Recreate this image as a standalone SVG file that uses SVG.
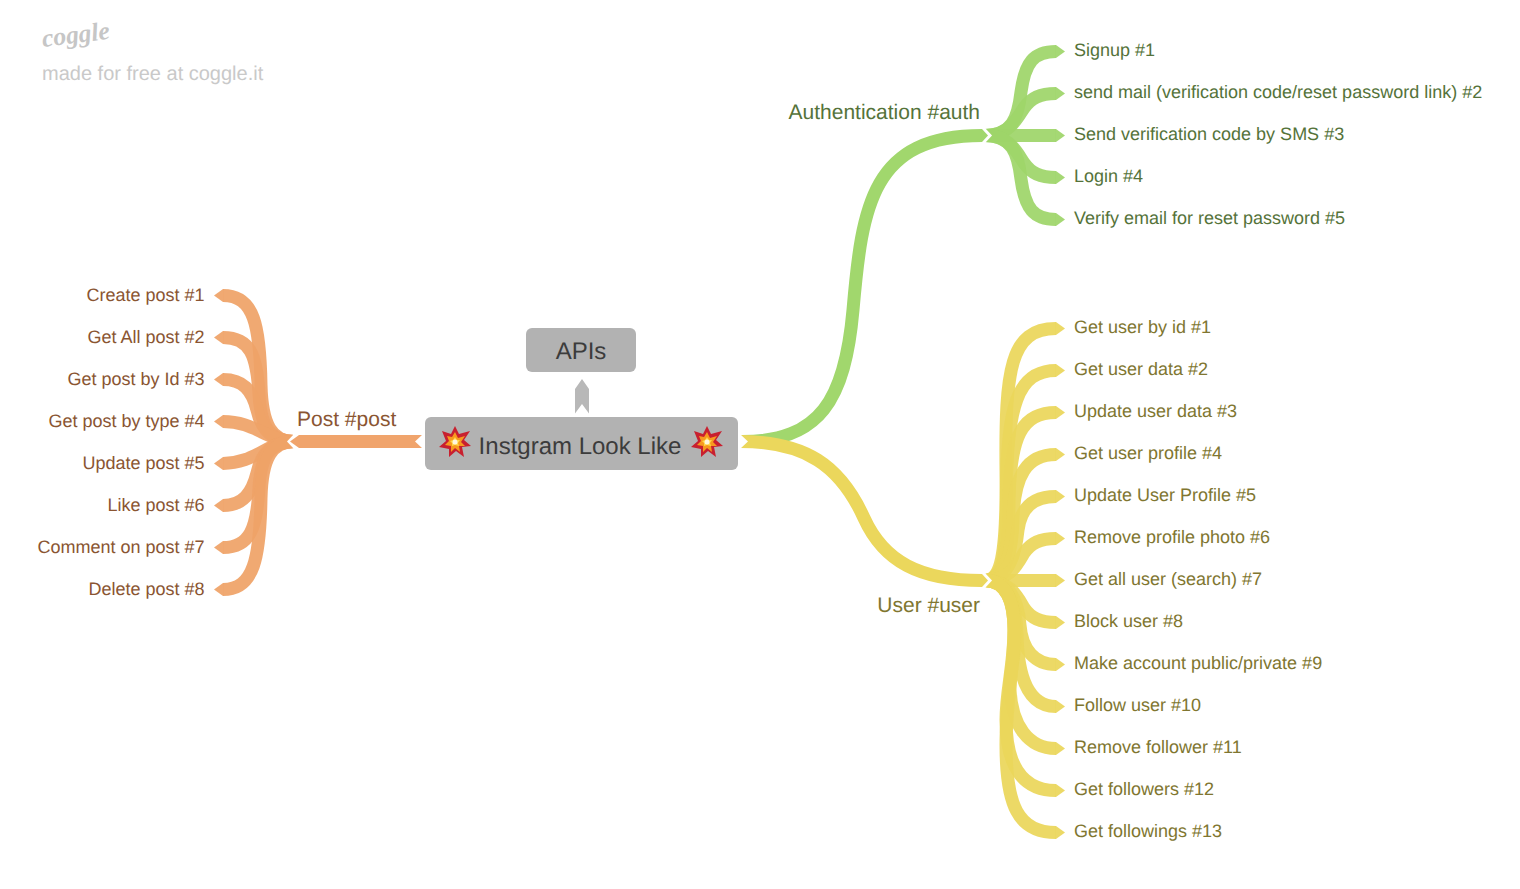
<svg xmlns="http://www.w3.org/2000/svg" width="1520" height="889" viewBox="0 0 1520 889">
<style>
text{font-family:"Liberation Sans",Arial,sans-serif;text-rendering:geometricPrecision}
.c{fill:none;stroke-width:13;stroke-linecap:butt;opacity:.93}
.m{fill:none;stroke-width:13;stroke-linecap:butt}
.t{stroke:none;opacity:.93}
.gs{stroke:#a1d76d}.gf{fill:#a1d76d}
.ys{stroke:#ebd75c}.yf{fill:#ebd75c}
.os{stroke:#f0a46c}.of{fill:#f0a46c}
.gc{stroke:#9ed569}.gd{fill:#9ed569}
.yc{stroke:#ebd65a}.yd{fill:#ebd65a}
.oc{stroke:#efa267}.od{fill:#efa267}
.gt{fill:#55733a}.yt{fill:#807630}.ot{fill:#8a5532}
.leaf{font-size:18px}
.br{font-size:21px}
.box{fill:#b2b2b2}
.lbl{fill:#3c3c3c;font-size:24px}
.notch{fill:#fff}
</style>
<defs>
<g id="boom">
<polygon points="0,-16 4,-8 15,-11 9,-2 16,4 7,5 9,15 1,9 -6,15 -6,7 -16,5 -9,-1 -13,-11 -4,-8" fill="#c8202f"/>
<polygon points="0,-10 3,-4 10,-6 6,0 10,4 4,4 5,10 0,6 -4,10 -4,4 -10,3 -6,-1 -8,-6 -3,-5" fill="#f79a1f"/>
<polygon points="0,-5 2,-2 5,-2 3,1 4,4 0,3 -3,4 -3,1 -5,-1 -2,-2" fill="#ffd84a"/>
<circle r="2.5" fill="#fff6e0"/>
</g>
<polygon id="tr" points="-0.3,-6.500 0,-6.500 9,0 0,6.500 -0.3,6.500"/>
<polygon id="tl" points="0.3,-6.500 0,-6.500 -9,0 0,6.500 0.3,6.500"/>
</defs>

<g id="connectors">
<!-- green children -->
<path class="c gc" d="M985 135.500 C1012 135.500 1018 118 1021 92 C1025 62 1034 51.500 1056 51.500"/>
<path class="c gc" d="M985 135.500 C1010 135.500 1017 118 1024 108 C1031 98 1040 93.500 1056 93.500"/>
<path class="c gc" d="M985 135.500 H1056"/>
<path class="c gc" d="M985 135.500 C1010 135.500 1017 153 1024 163 C1031 173 1040 177.500 1056 177.500"/>
<path class="c gc" d="M985 135.500 C1012 135.500 1018 153 1021 179 C1025 209 1034 219.500 1056 219.500"/>
<g class="gd">
<use href="#tr" class="t" x="1056" y="51.500"/><use href="#tr" class="t" x="1056" y="93.500"/><use href="#tr" class="t" x="1056" y="135.500"/><use href="#tr" class="t" x="1056" y="177.500"/><use href="#tr" class="t" x="1056" y="219.500"/>
</g>
<polygon class="notch" points="983,128 985,128 992,135.500 985,143 983,143"/>

<!-- yellow children -->
<path class="c yc" d="M985 580.500 C1000 580.500 1007 560 1006 470 C1005 370 1010 328.500 1056 328.500"/>
<path class="c yc" d="M985 580.500 C1002 580.500 1007 560 1006.500 500 C1006 405 1018 370.500 1056 370.500"/>
<path class="c yc" d="M985 580.500 C1003 580.500 1009 555 1009 510 C1009 435 1022 412.500 1056 412.500"/>
<path class="c yc" d="M985 580.500 C1005 580.500 1012 555 1013 520 C1014 475 1027 454.500 1056 454.500"/>
<path class="c yc" d="M985 580.500 C1006 580.500 1015 560 1018 530 C1021 508 1033 496.500 1056 496.500"/>
<path class="c yc" d="M985 580.500 C1010 580.500 1017 565 1024 553 C1031 543 1040 538.500 1056 538.500"/>
<path class="c yc" d="M985 580.500 H1056"/>
<path class="c yc" d="M985 580.500 C1010 580.500 1017 596 1024 608 C1031 618 1040 622.500 1056 622.500"/>
<path class="c yc" d="M985 580.500 C1010 580.500 1018 600 1020 625 C1022 650 1035 664.500 1056 664.500"/>
<path class="c yc" d="M985 580.500 C1007 580.500 1016 600 1017 635 C1018 680 1030 706.500 1056 706.500"/>
<path class="c yc" d="M985 580.500 C1005 580.500 1014 600 1015 630 C1016 660 1009 670 1010 690 C1012 725 1028 748.500 1056 748.500"/>
<path class="c yc" d="M985 580.500 C1005 580.500 1014 600 1014 630 C1014 665 1006 690 1006 720 C1006 765 1022 790.500 1056 790.500"/>
<path class="c yc" d="M985 580.500 C1005 580.500 1014 600 1014 630 C1014 670 1006 700 1006 745 C1006 805 1018 832.500 1056 832.500"/>
<g class="yd">
<use href="#tr" class="t" x="1056" y="328.500"/><use href="#tr" class="t" x="1056" y="370.500"/><use href="#tr" class="t" x="1056" y="412.500"/><use href="#tr" class="t" x="1056" y="454.500"/><use href="#tr" class="t" x="1056" y="496.500"/><use href="#tr" class="t" x="1056" y="538.500"/><use href="#tr" class="t" x="1056" y="580.500"/><use href="#tr" class="t" x="1056" y="622.500"/><use href="#tr" class="t" x="1056" y="664.500"/><use href="#tr" class="t" x="1056" y="706.500"/><use href="#tr" class="t" x="1056" y="748.500"/><use href="#tr" class="t" x="1056" y="790.500"/><use href="#tr" class="t" x="1056" y="832.500"/>
</g>
<polygon class="notch" points="983,573 985,573 992,580.500 985,588 983,588"/>

<!-- orange children -->
<path class="c oc" d="M294 441.500 C272 441.500 262 425 261 385 C260 325 254 295.500 223 295.500"/>
<path class="c oc" d="M294 441.500 C272 441.500 261 430 259 395 C257 355 250 337.500 223 337.500"/>
<path class="c oc" d="M294 441.500 C275 441.500 262 432 257 410 C252 390 243 379.500 223 379.500"/>
<path class="c oc" d="M294 441.500 C268 441.500 255 421.500 223 421.500"/>
<path class="c oc" d="M294 441.500 C268 441.500 255 463.500 223 463.500"/>
<path class="c oc" d="M294 441.500 C275 441.500 262 451 257 473 C252 493 243 505.500 223 505.500"/>
<path class="c oc" d="M294 441.500 C272 441.500 261 453 259 488 C257 528 250 547.500 223 547.500"/>
<path class="c oc" d="M294 441.500 C272 441.500 262 458 261 498 C260 558 254 589.500 223 589.500"/>
<g class="od">
<use href="#tl" class="t" x="223" y="295.500"/><use href="#tl" class="t" x="223" y="337.500"/><use href="#tl" class="t" x="223" y="379.500"/><use href="#tl" class="t" x="223" y="421.500"/><use href="#tl" class="t" x="223" y="463.500"/><use href="#tl" class="t" x="223" y="505.500"/><use href="#tl" class="t" x="223" y="547.500"/><use href="#tl" class="t" x="223" y="589.500"/>
</g>
<polygon class="notch" points="296,434 294,434 287,441.500 294,449 296,449"/>

<!-- main branches -->
<path class="m gs" d="M742 441.500 C820 441.500 845 400 853 310 C862 205 872 135.500 982 135.500"/>
<path class="m ys" d="M740 441.500 C805 441.500 840 465 864 518 C884 562 920 580.500 982 580.500"/>
<path class="m os" d="M299 441.500 H424"/>
<polygon class="gf" points="981.500,129 982,129 988,135.500 982,142 981.500,142"/>
<polygon class="yf" points="981.500,574 982,574 988,580.500 982,587 981.500,587"/>
<polygon class="of" points="299.500,435 299,435 290,441.500 299,448 299.500,448"/>
<polygon class="notch" points="423,434 425,434 425,449 423,449 415,441.500"/>
<polygon class="notch" points="739,434 740,434 748,441.500 740,449 739,449"/>

<!-- APIs link -->
<polygon points="575,413.500 575,389 582,379 589,389 589,413.500 582,404" fill="#b8b8b8"/>
</g>

<g id="watermark">
<text x="43" y="47" transform="rotate(-7 43 47)" style="font-family:'Liberation Serif',serif;font-style:italic;font-weight:bold;font-size:25.500px" fill="#c6c6c6">coggle</text>
<text x="42" y="80" font-size="20" fill="#c9c9c9">made for free at coggle.it</text>
</g>

<g id="node-root">
<rect class="box" x="425" y="417" width="313" height="53" rx="6"/>
<use href="#boom" x="455" y="442"/>
<use href="#boom" x="707" y="442"/>
<text class="lbl" x="580" y="454" text-anchor="middle">Instgram Look Like</text>
</g>
<g id="node-apis">
<rect class="box" x="526" y="328" width="110" height="44" rx="6"/>
<text class="lbl" x="581" y="358.500" text-anchor="middle">APIs</text>
</g>

<g id="node-auth"><text class="br gt" x="980" y="119" text-anchor="end">Authentication #auth</text></g>
<g id="node-a1"><text class="leaf gt" x="1074" y="56">Signup #1</text></g>
<g id="node-a2"><text class="leaf gt" x="1074" y="98">send mail (verification code/reset password link) #2</text></g>
<g id="node-a3"><text class="leaf gt" x="1074" y="140">Send verification code by SMS #3</text></g>
<g id="node-a4"><text class="leaf gt" x="1074" y="182">Login #4</text></g>
<g id="node-a5"><text class="leaf gt" x="1074" y="224">Verify email for reset password #5</text></g>

<g id="node-user"><text class="br yt" x="980" y="612" text-anchor="end">User #user</text></g>
<g id="node-u1"><text class="leaf yt" x="1074" y="333">Get user by id #1</text></g>
<g id="node-u2"><text class="leaf yt" x="1074" y="375">Get user data #2</text></g>
<g id="node-u3"><text class="leaf yt" x="1074" y="417">Update user data #3</text></g>
<g id="node-u4"><text class="leaf yt" x="1074" y="459">Get user profile #4</text></g>
<g id="node-u5"><text class="leaf yt" x="1074" y="501">Update User Profile #5</text></g>
<g id="node-u6"><text class="leaf yt" x="1074" y="543">Remove profile photo #6</text></g>
<g id="node-u7"><text class="leaf yt" x="1074" y="585">Get all user (search) #7</text></g>
<g id="node-u8"><text class="leaf yt" x="1074" y="627">Block user #8</text></g>
<g id="node-u9"><text class="leaf yt" x="1074" y="669">Make account public/private #9</text></g>
<g id="node-u10"><text class="leaf yt" x="1074" y="711">Follow user #10</text></g>
<g id="node-u11"><text class="leaf yt" x="1074" y="753">Remove follower #11</text></g>
<g id="node-u12"><text class="leaf yt" x="1074" y="795">Get followers #12</text></g>
<g id="node-u13"><text class="leaf yt" x="1074" y="837">Get followings #13</text></g>

<g id="node-post"><text class="br ot" x="297" y="426">Post #post</text></g>
<g id="node-p1"><text class="leaf ot" x="204.500" y="301" text-anchor="end">Create post #1</text></g>
<g id="node-p2"><text class="leaf ot" x="204.500" y="343" text-anchor="end">Get All post #2</text></g>
<g id="node-p3"><text class="leaf ot" x="204.500" y="385" text-anchor="end">Get post by Id #3</text></g>
<g id="node-p4"><text class="leaf ot" x="204.500" y="427" text-anchor="end">Get post by type #4</text></g>
<g id="node-p5"><text class="leaf ot" x="204.500" y="469" text-anchor="end">Update post #5</text></g>
<g id="node-p6"><text class="leaf ot" x="204.500" y="511" text-anchor="end">Like post #6</text></g>
<g id="node-p7"><text class="leaf ot" x="204.500" y="553" text-anchor="end">Comment on post #7</text></g>
<g id="node-p8"><text class="leaf ot" x="204.500" y="595" text-anchor="end">Delete post #8</text></g>
</svg>
